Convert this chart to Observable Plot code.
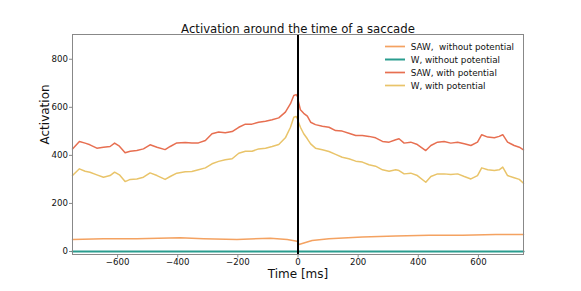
<!DOCTYPE html>
<html>
<head>
<meta charset="utf-8">
<script src="https://cdn.jsdelivr.net/npm/d3@7"></script>
<script src="https://cdn.jsdelivr.net/npm/@observablehq/plot@0.6"></script>
<style>
  body { margin: 0; background: white; }
  #wrap { position: relative; width: 581px; height: 291px; font-family: "DejaVu Sans", sans-serif; }
  #legend { position: absolute; left: 385px; top: 40px; font-size: 8.8px; color: #111; }
  .row { display: flex; align-items: center; height: 13px; white-space: pre; }
  .row svg { display: block; margin-right: 5.7px; }
</style>
</head>
<body>
<div id="wrap"><div id="legend"></div></div>
<script>
// ---- data ----
const seriesNames = ["SAW,  without potential", "W, without potential", "SAW, with potential", "W, with potential"];
const seriesColors = ["#f4a261", "#2a9d8f", "#e76f51", "#e9c46a"];
const xTicks = [-600, -400, -200, 0, 200, 400, 600];
const yTicks = [0, 200, 400, 600, 800];

// time axis for the "with potential" series (ms)
const timesWith = [-750, -727, -708, -692, -669, -647, -625, -610, -594, -575, -558, -536, -514, -492, -469, -442, -425, -403, -375, -353, -331, -308, -286, -264, -242, -219, -197, -175, -153, -131, -108, -86, -64, -42, -25, -14, -6, 0, 1, 8, 19, 31, 42, 58, 81, 103, 125, 147, 169, 192, 214, 236, 258, 281, 303, 325, 336, 353, 375, 397, 425, 442, 464, 486, 508, 531, 553, 575, 597, 611, 631, 653, 669, 681, 697, 719, 736, 750];
const sawWith = [427, 458, 451, 444, 430, 434, 437, 451, 438, 411, 417, 420, 427, 444, 434, 424, 437, 452, 454, 452, 452, 462, 490, 497, 494, 499, 517, 530, 530, 538, 542, 548, 556, 580, 615, 649, 653, 642, 625, 590, 575, 563, 538, 528, 521, 517, 503, 501, 492, 483, 483, 479, 473, 458, 455, 465, 469, 451, 455, 445, 420, 441, 455, 458, 451, 455, 448, 441, 455, 486, 476, 473, 479, 486, 455, 441, 434, 423];
const wWith = [316, 344, 334, 330, 319, 309, 316, 330, 319, 291, 300, 302, 309, 327, 316, 300, 312, 326, 332, 333, 340, 348, 365, 375, 382, 386, 409, 417, 417, 427, 430, 437, 445, 473, 517, 559, 562, 548, 540, 517, 490, 469, 448, 430, 423, 416, 404, 392, 386, 376, 372, 361, 355, 340, 334, 340, 337, 323, 326, 316, 288, 312, 323, 323, 320, 323, 312, 302, 316, 348, 340, 337, 340, 351, 316, 307, 300, 284];

// "without potential" series
const timesSawWithout = [-750, -647, -536, -392, -314, -203, -92, -36, -3, 3, 47, 103, 214, 325, 436, 547, 658, 750];
const sawWithout = [50, 53, 53, 57, 53, 50, 55, 50, 43, 29, 46, 53, 60, 65, 68, 68, 71, 71];
const timesWWithout = [-750, 750];
const wWithout = [0, 0];

const saccadeTime = [0];

// ---- build tables ----
const toRows = (ts, vs) => ts.map((t, i) => ({t, v: vs[i]}));
const rowsSawWithout = toRows(timesSawWithout, sawWithout);
const rowsWWithout = toRows(timesWWithout, wWithout);
const rowsSawWith = toRows(timesWith, sawWith);
const rowsWWith = toRows(timesWith, wWith);

const chart = Plot.plot({
  width: 581,
  height: 291,
  marginLeft: 72,
  marginRight: 58,
  marginTop: 34,
  marginBottom: 37,
  style: {fontFamily: "DejaVu Sans", background: "white", color: "#111"},
  x: {domain: [-750, 750]},
  y: {domain: [-12.5, 903]},
  marks: [
    Plot.axisX({ticks: xTicks, tickSize: 3.5, tickPadding: 1, fontSize: 8.6, label: null, stroke: "#888", fill: "#111"}),
    Plot.axisY({ticks: yTicks, tickSize: 3, tickPadding: 1.5, fontSize: 8.6, label: null, stroke: "#888", fill: "#111"}),
    Plot.line(rowsSawWithout, {x: "t", y: "v", stroke: seriesColors[0], strokeWidth: 1.5}),
    Plot.line(rowsWWithout, {x: "t", y: "v", stroke: seriesColors[1], strokeWidth: 2.2}),
    Plot.line(rowsSawWith, {x: "t", y: "v", stroke: seriesColors[2], strokeWidth: 1.5}),
    Plot.line(rowsWWith, {x: "t", y: "v", stroke: seriesColors[3], strokeWidth: 1.5}),
    Plot.ruleX(saccadeTime, {stroke: "black", strokeWidth: 2}),
    Plot.frame({stroke: "#888", strokeWidth: 1}),
    Plot.text(["Activation around the time of a saccade"], {frameAnchor: "top", lineAnchor: "middle", dy: -5.5, fontSize: 11.7, fill: "#111"}),
    Plot.text(["Time [ms]"], {frameAnchor: "bottom", lineAnchor: "middle", dy: 19.5, fontSize: 12, fill: "#111"}),
    Plot.text(["Activation"], {frameAnchor: "left", lineAnchor: "middle", dx: -27, rotate: -90, fontSize: 12, fill: "#111"})
  ]
});
document.getElementById("wrap").prepend(chart);

// legend (HTML overlay in the upper right of the plot area)
const legend = d3.select("#legend");
seriesNames.forEach((name, i) => {
  const row = legend.append("div").attr("class", "row");
  const sw = row.append("svg").attr("width", 20).attr("height", 13);
  sw.append("line").attr("x1", 0).attr("x2", 20).attr("y1", 6.5).attr("y2", 6.5)
    .attr("stroke", seriesColors[i]).attr("stroke-width", i === 1 ? 2 : 1.7);
  row.append("span").text(name);
});
</script>
</body>
</html>
